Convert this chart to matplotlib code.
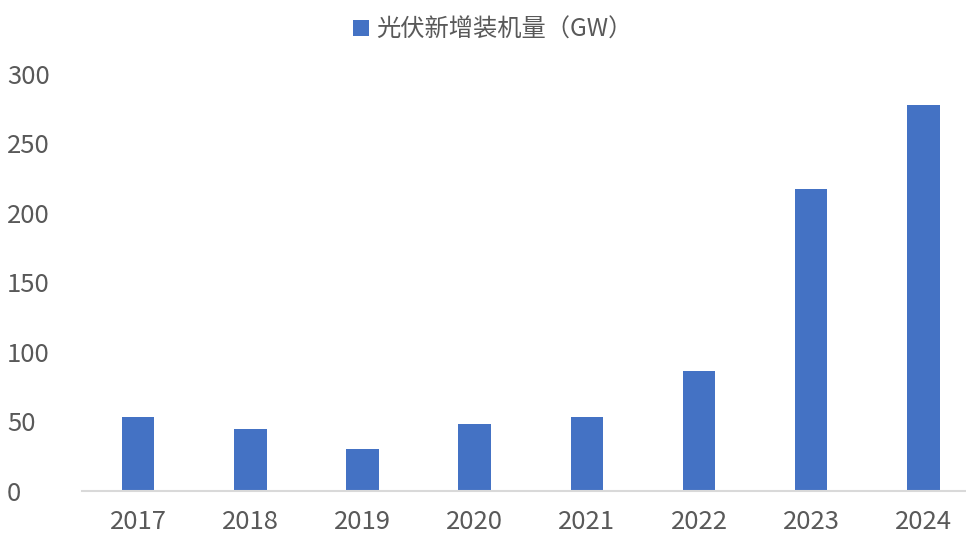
import matplotlib
matplotlib.use("Agg")
import matplotlib.pyplot as plt

plt.rcParams['font.family'] = ['Noto Sans CJK SC', 'DejaVu Sans']

years = ['2017', '2018', '2019', '2020', '2021', '2022', '2023', '2024']
new_pv = [53.1, 44.3, 30.1, 48.2, 53.0, 86.0, 216.9, 277.6]
series_name = '光伏新增装机量（GW）'

fig = plt.figure(figsize=(9.66, 5.38), dpi=100)
ax = fig.add_axes([0.085, 0.0874, 0.915, 0.7751])

ax.bar(range(len(years)), new_pv, width=0.29, color='#4472C4', label=series_name)

ax.set_ylim(0, 300)
ax.set_yticks(range(0, 301, 50))
ax.set_xlim(-0.5, 7.38)
ax.set_xticks(range(len(years)))
ax.set_xticklabels(years)

for s in ['top', 'right', 'left']:
    ax.spines[s].set_visible(False)
ax.spines['bottom'].set_color('#D9D9D9')
ax.spines['bottom'].set_linewidth(1.5)
ax.tick_params(length=0, labelsize=18.5, colors='#595959')
ax.tick_params(axis='x', pad=13)
ax.tick_params(axis='y', pad=54)
for lbl in ax.get_yticklabels():
    lbl.set_horizontalalignment('left')

fig.legend(loc='upper center', bbox_to_anchor=(0.51, 1.01), frameon=False,
           fontsize=17.5, labelcolor='#595959', handlelength=0.65, handleheight=0.65,
           handletextpad=0.3)

fig.savefig('out.png', dpi=100)
